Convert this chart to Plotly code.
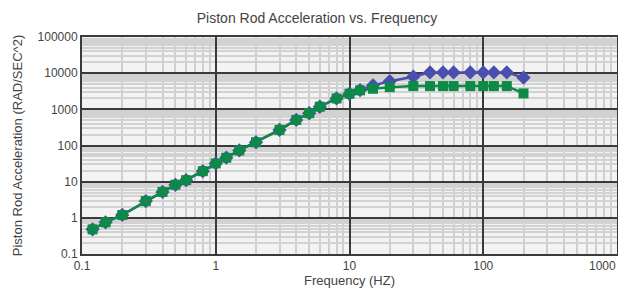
import math
import plotly.graph_objects as go

freq = [0.12, 0.15, 0.2, 0.3, 0.4, 0.5, 0.6, 0.8, 1, 1.2, 1.5, 2, 3, 4, 5, 6, 8, 10,
        12, 15, 20, 30, 40, 50, 60, 80, 100, 120, 150, 200]
accel_blue = [0.48, 0.75, 1.2, 2.9, 5.2, 8.2, 11, 19.5, 32, 46, 73, 123, 270, 510, 780, 1180,
              2000, 2700, 3400, 4600, 6000, 8000, 10500, 10500, 10500, 10500, 10500, 10500, 10500, 7500]
accel_green = [0.48, 0.75, 1.2, 2.9, 5.2, 8.2, 11, 19.5, 32, 46, 73, 123, 270, 510, 780, 1180,
               2000, 2700, 3350, 3700, 4100, 4400, 4400, 4400, 4400, 4400, 4400, 4400, 4400, 2750]

x_ticks = [0.1, 1, 10, 100, 1000]
x_labels = ["0.1", "1", "10", "100", "1000"]
y_ticks = [0.1, 1, 10, 100, 1000, 10000, 100000]
y_labels = ["0.1", "1", "10", "100", "1000", "10000", "100000"]
minor_mult = [2, 3, 4, 5, 6, 7, 8, 9]

x_minor = [d * m for d in x_ticks[:-1] for m in minor_mult]
y_minor = [d * m for d in y_ticks[:-1] for m in minor_mult]

BLUE = "#4a4fae"
GREEN = "#0d8a46"
FONT = "Liberation Sans Narrow, Arial Narrow, Liberation Sans, sans-serif"

fig = go.Figure()
fig.add_trace(go.Scatter(x=freq, y=accel_blue, mode="lines+markers",
                         line=dict(color=BLUE, width=2.5),
                         marker=dict(symbol="diamond", size=11, color=BLUE),
                         showlegend=False))
fig.add_trace(go.Scatter(x=freq, y=accel_green, mode="lines+markers",
                         line=dict(color=GREEN, width=2.5),
                         marker=dict(symbol="square", size=10, color=GREEN),
                         showlegend=False))

# last x tick label sits flush with the right edge, so draw it as an annotation
shown_x_labels = x_labels[:-1] + [""]
fig.add_annotation(x=math.log10(x_ticks[-1]), xref="x", y=0, yref="paper",
                   text=x_labels[-1], showarrow=False, xanchor="right", yanchor="top",
                   yshift=-3, xshift=1, font=dict(family=FONT, size=12, color="#444444"))

# page body has an 8px margin, so the figure is sized/offset to compensate
fig.update_layout(
    width=618, height=281,
    margin=dict(l=74, r=9, t=29, b=35),
    paper_bgcolor="white",
    plot_bgcolor="#f3f3f3",
    font=dict(family=FONT, size=12, color="#444444"),
    title=dict(text="Piston Rod Acceleration vs. Frequency", x=0.5, xanchor="center",
               y=1 - 10 / 281, yanchor="middle", font=dict(family=FONT, size=14, color="#444444")),
)
fig.update_xaxes(type="log", range=[-1, 3], tickvals=x_ticks, ticktext=shown_x_labels,
                 showgrid=True, gridcolor="#3a3a3a", gridwidth=2,
                 minor=dict(tickvals=x_minor, showgrid=True, gridcolor="#cfcfcf", gridwidth=2, ticks=""),
                 showline=True, linecolor="#3a3a3a", linewidth=2, mirror=True,
                 ticks="", zeroline=False, automargin=False,
                 title=dict(text="Frequency (HZ)", standoff=2, font=dict(family=FONT, size=13)))
fig.update_yaxes(type="log", range=[-1, 5], tickvals=y_ticks, ticktext=y_labels,
                 showgrid=True, gridcolor="#3a3a3a", gridwidth=2,
                 minor=dict(tickvals=y_minor, showgrid=True, gridcolor="#d2d2d2", gridwidth=1.5, ticks=""),
                 showline=True, linecolor="#3a3a3a", linewidth=2, mirror=True,
                 ticks="", zeroline=False, automargin=False,
                 title=dict(text="Piston Rod Acceleration (RAD/SEC^2)", standoff=12,
                            font=dict(family=FONT, size=13)))

fig.write_html("out.html")
